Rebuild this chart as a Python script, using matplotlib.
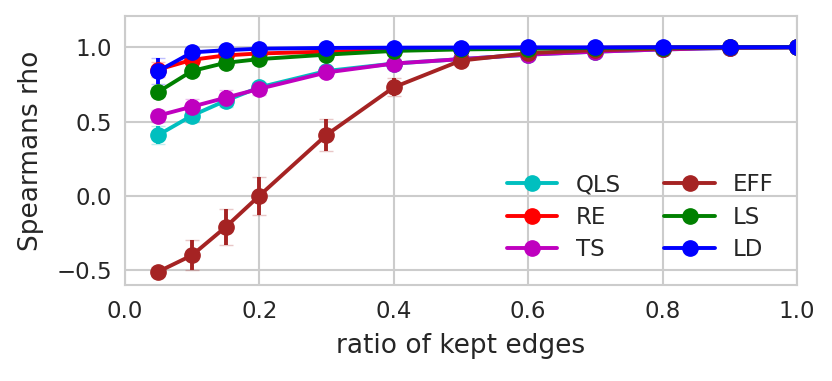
import matplotlib
matplotlib.use('Agg')
import matplotlib.pyplot as plt
from matplotlib.lines import Line2D
import seaborn as sns

sns.set_style('whitegrid')
plt.rcParams['font.family'] = ['DejaVu Sans']

ratios = [0.05, 0.1, 0.15, 0.2, 0.3, 0.4, 0.5, 0.6, 0.7, 0.8, 0.9, 1.0]

# mean spearman rho per method
qls = [0.41, 0.54, 0.64, 0.73, 0.84, 0.89, 0.92, 0.95, 0.97, 0.985, 0.995, 1.0]
re = [0.85, 0.915, 0.945, 0.958, 0.97, 0.98, 0.99, 0.993, 0.996, 0.998, 0.999, 1.0]
ts = [0.54, 0.60, 0.66, 0.72, 0.83, 0.89, 0.92, 0.95, 0.97, 0.985, 0.995, 1.0]
eff = [-0.51, -0.40, -0.21, 0.0, 0.41, 0.73, 0.91, 0.96, 0.98, 0.99, 0.998, 1.0]
ls = [0.70, 0.84, 0.895, 0.92, 0.95, 0.975, 0.985, 0.99, 0.995, 0.998, 0.999, 1.0]
ld = [0.84, 0.965, 0.98, 0.99, 0.995, 0.997, 0.998, 0.999, 0.999, 1.0, 1.0, 1.0]

# std errors
qls_err = [0.06, 0.04, 0.04, 0.03, 0.02, 0.01, 0.01, 0.01, 0.0, 0.0, 0.0, 0.0]
re_err = [0.05, 0.03, 0.02, 0.01, 0.01, 0.0, 0.0, 0.0, 0.0, 0.0, 0.0, 0.0]
ts_err = [0.04, 0.05, 0.05, 0.04, 0.02, 0.02, 0.01, 0.01, 0.0, 0.0, 0.0, 0.0]
eff_err = [0.03, 0.10, 0.12, 0.13, 0.107, 0.06, 0.03, 0.01, 0.01, 0.0, 0.0, 0.0]
ls_err = [0.03, 0.02, 0.02, 0.01, 0.01, 0.0, 0.0, 0.0, 0.0, 0.0, 0.0, 0.0]
ld_err = [0.09, 0.03, 0.02, 0.01, 0.0, 0.0, 0.0, 0.0, 0.0, 0.0, 0.0, 0.0]

series = [
    ('QLS', qls, qls_err, 'c'),
    ('RE', re, re_err, 'r'),
    ('TS', ts, ts_err, 'm'),
    ('EFF', eff, eff_err, '#a52323'),
    ('LS', ls, ls_err, 'g'),
    ('LD', ld, ld_err, 'b'),
]

fig = plt.figure(figsize=(8.32, 3.81), dpi=100)
ax = fig.add_axes([0.150, 0.252, 0.808, 0.706])

handles = []
for name, vals, err, col in series:
    line, caps, bars = ax.errorbar(ratios, vals, yerr=err, color=col, marker='o',
                                   markersize=11, linewidth=2.8, elinewidth=2.8,
                                   capsize=5, capthick=1)
    for c in caps:
        c.set_alpha(0.25)
    handles.append(Line2D([], [], color=col, marker='o', markersize=11,
                          linewidth=2.8, label=name))

ax.set_xlim(0, 1.0)
ax.set_ylim(-0.6, 1.21)
ax.set_xticks([0.0, 0.2, 0.4, 0.6, 0.8, 1.0])
ax.set_yticks([-0.5, 0.0, 0.5, 1.0])
ax.set_yticklabels(['\u22120.5', '0.0', '0.5', '1.0'])
ax.tick_params(labelsize=16.5, colors='#262626', length=0)
ax.tick_params(axis='x', pad=11)
ax.tick_params(axis='y', pad=9)
ax.set_xlabel('ratio of kept edges', fontsize=19, color='#262626', labelpad=7)
ax.set_ylabel('Spearmans rho', fontsize=19, color='#262626', labelpad=9)
for s in ax.spines.values():
    s.set_color('#cccccc')
    s.set_linewidth(1.5)
ax.grid(True, color='#cccccc', linewidth=1.5)

ax.legend(handles=handles, loc='lower left', ncol=2, frameon=False, fontsize=16.5,
          handlelength=2.2, handletextpad=0.8, columnspacing=1.9, labelspacing=0.4,
          borderpad=0.4, bbox_to_anchor=(0.555, 0.056), borderaxespad=0)

fig.savefig('out.png', dpi=100)
